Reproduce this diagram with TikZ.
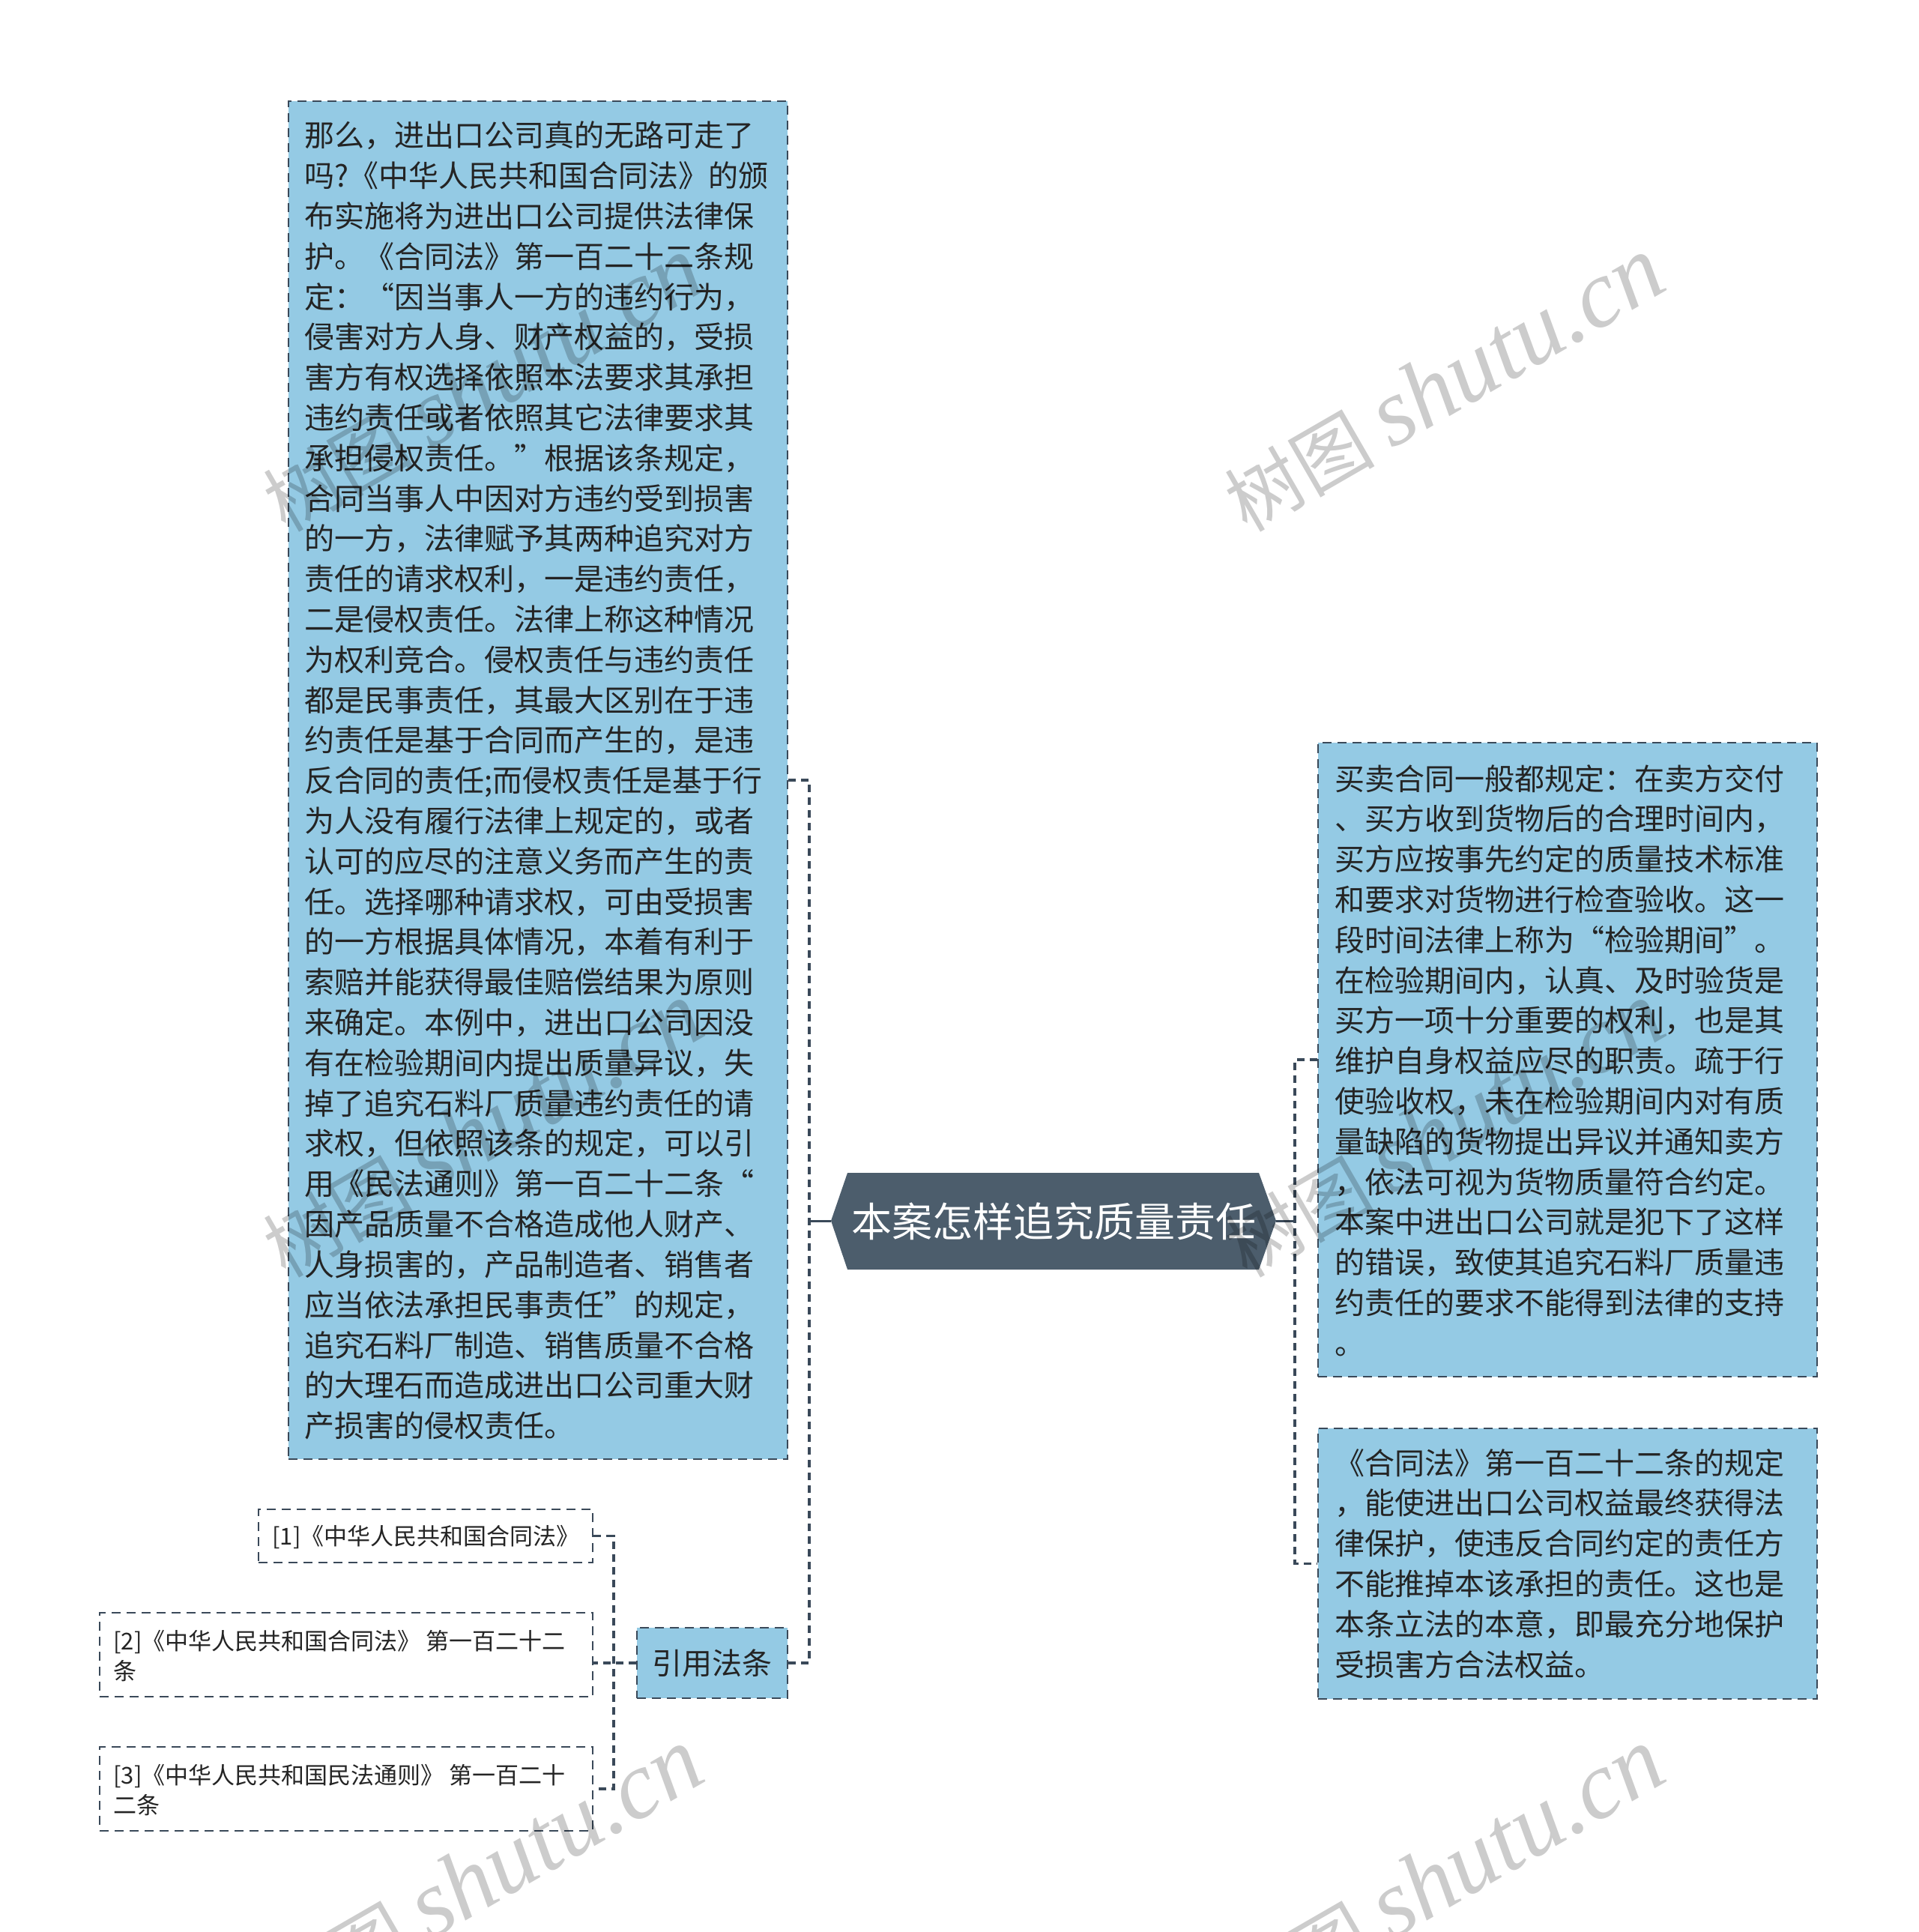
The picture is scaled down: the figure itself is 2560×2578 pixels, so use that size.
\documentclass[tikz,border=0pt]{standalone}
\usepackage{fontspec}
\setmainfont{Noto Sans CJK SC}
\newfontfamily\wmlatin{Liberation Serif}
\usetikzlibrary{fit}
\definecolor{boxfill}{RGB}{148,202,228}
\definecolor{edge}{RGB}{58,73,89}
\definecolor{hubfill}{RGB}{76,93,108}
\definecolor{ink}{RGB}{36,36,36}
\newcommand\textlines[2]{\begin{minipage}[t]{#1}\raggedright #2\end{minipage}}
\begin{document}
\begin{tikzpicture}[x=0.5pt,y=-0.5pt,
  bluebox/.style={draw=edge, fill=boxfill, line width=1.4pt, dash pattern=on 6pt off 4pt, inner sep=0pt},
  plainbox/.style={draw=edge, fill=white, line width=1.4pt, dash pattern=on 6pt off 4pt, inner sep=0pt},
  bodytext/.style={anchor=base west, inner sep=0pt, text=ink, font=\fontsize{20pt}{26.9pt}\selectfont},
  smalltext/.style={anchor=base west, inner sep=0pt, text=ink, font=\fontsize{15.5pt}{20pt}\selectfont},
  link/.style={draw=edge, line width=1.9pt, dash pattern=on 5pt off 3.5pt},
  solidlink/.style={draw=edge, line width=1.9pt},
  watermark/.style={rotate=30, text=black, opacity=0.2, inner sep=0pt}
]
\useasboundingbox (0,0) rectangle (2560,2578);
\fill[white] (0,0) rectangle (2560,2578);

% boxes
\node[bluebox, fit={(385,135) (1051,1947)}] (LA) {};
\node[bluebox, fit={(1759,991) (2425,1837)}] (RA) {};
\node[bluebox, fit={(1759,1906) (2425,2267)}] (RB) {};
\node[bluebox, fit={(850,2172) (1051,2266)}] (CY) {};
\node[plainbox, fit={(345,2014) (791,2085)}] (S1) {};
\node[plainbox, fit={(133,2152) (791,2264)}] (S2) {};
\node[plainbox, fit={(133,2331) (791,2443)}] (S3) {};

% central topic
\fill[hubfill] (1109,1629) -- (1131,1565) -- (1680,1565) -- (1703,1629) -- (1680,1694) -- (1131,1694) -- cycle;
\node[inner sep=0pt, minimum width=297pt, minimum height=64.5pt, text=white, font=\fontsize{27pt}{27pt}\selectfont] (hub) at (1406,1629.5) {本案怎样追究质量责任};

% connectors
\coordinate (jl) at (1080,1629);
\coordinate (jr) at (1728,1629);
\coordinate (jc) at (819,2219);
\draw[link] (LA.east) -- (LA.east -| jl) -- (CY.east -| jl) -- (CY.east);
\draw[solidlink] (hub.west) -- (hub.west -| jl);
\draw[link] (RA.west) -- (RA.west -| jr) -- (RB.west -| jr) -- (RB.west);
\draw[solidlink] (hub.east) -- (hub.east -| jr);
\draw[link] (S1.east) -- (S1.east -| jc) -- (S3.east -| jc) -- (S3.east);
\draw[link] (CY.west) -- (CY.west -| S2.east);

% texts
\node[bodytext] (LAt) at (406,196) {\textlines{340pt}{%
那么，进出口公司真的无路可走了\\
吗?《中华人民共和国合同法》的颁\\
布实施将为进出口公司提供法律保\\
护。《合同法》第一百二十二条规\\
定：“因当事人一方的违约行为，\\
侵害对方人身、财产权益的，受损\\
害方有权选择依照本法要求其承担\\
违约责任或者依照其它法律要求其\\
承担侵权责任。”根据该条规定，\\
合同当事人中因对方违约受到损害\\
的一方，法律赋予其两种追究对方\\
责任的请求权利，一是违约责任，\\
二是侵权责任。法律上称这种情况\\
为权利竞合。侵权责任与违约责任\\
都是民事责任，其最大区别在于违\\
约责任是基于合同而产生的，是违\\
反合同的责任;而侵权责任是基于行\\
为人没有履行法律上规定的，或者\\
认可的应尽的注意义务而产生的责\\
任。选择哪种请求权，可由受损害\\
的一方根据具体情况，本着有利于\\
索赔并能获得最佳赔偿结果为原则\\
来确定。本例中，进出口公司因没\\
有在检验期间内提出质量异议，失\\
掉了追究石料厂质量违约责任的请\\
求权，但依照该条的规定，可以引\\
用《民法通则》第一百二十二条“\\
因产品质量不合格造成他人财产、\\
人身损害的，产品制造者、销售者\\
应当依法承担民事责任”的规定，\\
追究石料厂制造、销售质量不合格\\
的大理石而造成进出口公司重大财\\
产损害的侵权责任。}};

\node[bodytext] (RAt) at (1781,1054) {\textlines{340pt}{%
买卖合同一般都规定：在卖方交付\\
、买方收到货物后的合理时间内，\\
买方应按事先约定的质量技术标准\\
和要求对货物进行检查验收。这一\\
段时间法律上称为“检验期间”。\\
在检验期间内，认真、及时验货是\\
买方一项十分重要的权利，也是其\\
维护自身权益应尽的职责。疏于行\\
使验收权，未在检验期间内对有质\\
量缺陷的货物提出异议并通知卖方\\
，依法可视为货物质量符合约定。\\
本案中进出口公司就是犯下了这样\\
的错误，致使其追究石料厂质量违\\
约责任的要求不能得到法律的支持\\
。}};

\node[bodytext] (RBt) at (1781,1967) {\textlines{340pt}{%
《合同法》第一百二十二条的规定\\
，能使进出口公司权益最终获得法\\
律保护，使违反合同约定的责任方\\
不能推掉本该承担的责任。这也是\\
本条立法的本意，即最充分地保护\\
受损害方合法权益。}};

\node[inner sep=0pt, text=ink, font=\fontsize{20pt}{20pt}\selectfont] (CYt) at (CY.center) {引用法条};

\node[smalltext] (S1t) at (363,2061) {\textlines{300pt}{[1]《中华人民共和国合同法》}};
\node[smalltext] (S2t) at (151,2201) {\textlines{320pt}{[2]《中华人民共和国合同法》 第一百二十二\\条}};
\node[smalltext] (S3t) at (151,2380) {\textlines{320pt}{[3]《中华人民共和国民法通则》 第一百二十\\二条}};

% watermarks
\foreach \wx/\wy [count=\i] in {1927/513, 644/513, 1927/1508, 644/1508, 1927/2503, 644/2503}{
  \node[watermark] (wm\i) at (\wx,\wy) {\fontsize{50pt}{50pt}\selectfont 树图 {\wmlatin\itshape\fontsize{64pt}{64pt}\selectfont shutu.cn}};
}
\end{tikzpicture}
\end{document}
